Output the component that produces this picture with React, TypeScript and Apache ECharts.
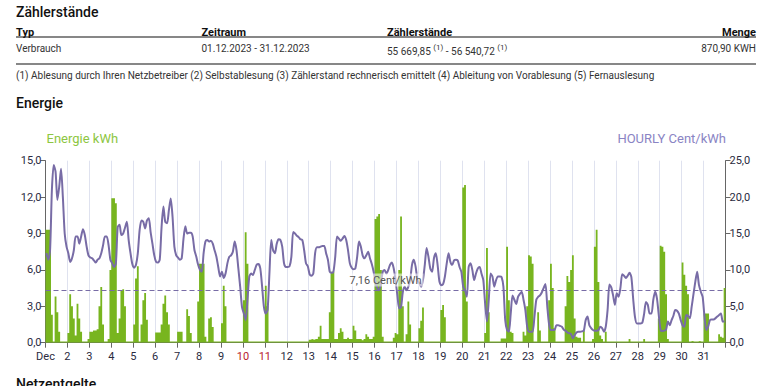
import React, { useEffect, useRef } from 'react';
import * as echarts from 'echarts';

// Tick labels of the day axis (one per day, first is the month)
const dayLabels = ['Dec', '2', '3', '4', '5', '6', '7', '8', '9', '10', '11', '12', '13', '14', '15', '16',
  '17', '18', '19', '20', '21', '22', '23', '24', '25', '26', '27', '28', '29', '30', '31'];
const redDays = ['10', '11'];

// Energy in kWh, two-hour bins (12 per day), December 1..31
const energyKwh: number[][] = [
  [9.3, 9.3, 9.3, 2.3, 0.1, 3.8, 2.5, 0.9, 0.1, 0.1, 0.1, 0.1],
  [0.8, 4.0, 3.0, 2.0, 0.6, 3.2, 2.0, 0.9, 0.1, 0.1, 0.1, 0.3],
  [0.9, 0.9, 1.0, 1.0, 1.1, 3.0, 4.6, 1.5, 0.1, 0.1, 0.3, 6.0],
  [11.9, 11.9, 11.5, 0.8, 2.0, 4.3, 4.4, 3.0, 0.1, 0.1, 0.1, 0.1],
  [1.5, 5.3, 6.3, 0.1, 1.5, 3.5, 4.1, 1.9, 0.1, 0.1, 0.1, 0.1],
  [0.85, 0.85, 0.85, 1.5, 3.2, 3.9, 2.5, 1.5, 0.1, 0.1, 0.1, 0.1],
  [0.9, 0.9, 0.9, 0.1, 0.1, 2.75, 2.2, 0.8, 0.1, 0.1, 0.1, 3.4],
  [6.5, 6.5, 6.5, 0.5, 0.1, 2.0, 2.1, 1.3, 0.1, 0.1, 0.1, 0.1],
  [1.6, 4.7, 3.0, 0.1, 0.1, 0.1, 0.1, 0.1, 0.1, 0.1, 0.1, 0.1],
  [3.5, 9.1, 6.5, 0.1, 0.1, 0.1, 0.1, 0.1, 0.1, 0.1, 0.1, 0.1],
  [4.7, 3.0, 0.1, 0.1, 0.1, 0.1, 0.1, 0.1, 0.1, 0.1, 0.1, 0.1],
  [0.1, 0.1, 0.1, 0.1, 0.1, 0.1, 0.1, 0.1, 0.1, 0.1, 0.1, 0.1],
  [0.25, 0.3, 0.25, 0.3, 0.3, 0.5, 1.4, 0.3, 0.3, 0.3, 0.3, 2.5],
  [5.85, 5.85, 0.3, 0.3, 0.8, 1.2, 0.9, 0.3, 0.3, 0.4, 0.3, 0.3],
  [1.4, 1.0, 0.3, 0.3, 0.3, 0.2, 0.3, 0.7, 0.5, 0.3, 0.3, 0.5],
  [10.2, 10.4, 10.6, 6.0, 0.5, 0.1, 0.1, 0.1, 0.1, 0.1, 0.4, 0.8],
  [0.7, 6.0, 10.4, 3.0, 0.1, 0.7, 3.4, 1.5, 0.1, 0.1, 0.1, 0.1],
  [1.2, 1.8, 2.9, 0.1, 0.1, 0.1, 0.1, 0.1, 0.1, 0.1, 0.1, 0.1],
  [2.7, 3.1, 2.1, 0.1, 0.1, 0.1, 0.1, 0.1, 0.1, 0.1, 0.1, 0.1],
  [12.8, 13.0, 3.4, 0.1, 0.1, 0.1, 0.1, 0.1, 0.1, 0.1, 0.1, 0.1],
  [0.8, 7.8, 2.5, 0.1, 0.1, 0.1, 0.1, 0.1, 0.1, 0.35, 0.35, 0.35],
  [7.9, 3.5, 0.9, 0.8, 0.1, 0.1, 0.1, 0.1, 0.1, 0.9, 0.6, 3.0],
  [7.2, 7.1, 6.5, 0.1, 0.1, 2.5, 1.0, 0.1, 0.1, 0.1, 0.1, 3.5],
  [6.5, 4.5, 1.2, 0.1, 0.1, 0.1, 0.1, 0.1, 3.0, 5.5, 5.0, 6.0],
  [7.2, 2.0, 0.5, 0.4, 0.4, 0.1, 1.0, 0.1, 0.1, 0.1, 0.1, 0.3],
  [7.9, 9.3, 5.0, 0.6, 0.3, 0.1, 0.9, 0.1, 0.1, 0.1, 0.1, 0.1],
  [0.1, 0.1, 0.1, 0.1, 0.1, 0.1, 0.1, 0.3, 0.1, 0.1, 0.1, 0.1],
  [0.1, 0.1, 0.1, 0.3, 0.1, 0.1, 0.1, 0.1, 0.1, 0.1, 0.1, 2.0],
  [8.0, 7.9, 7.5, 4.0, 0.3, 0.1, 0.1, 0.1, 0.1, 0.1, 0.1, 0.1],
  [6.6, 5.6, 4.7, 4.0, 0.1, 0.15, 0.1, 0.1, 0.1, 0.15, 0.1, 0.1],
  [2.4, 2.4, 2.4, 0.1, 0.1, 0.1, 0.1, 0.1, 0.7, 0.5, 0.4, 4.5],
];

// HOURLY price in Cent/kWh, two-hour bins (12 per day)
const priceCent: number[][] = [
  [12.3, 11.4, 12.7, 21.0, 24.4, 23.5, 19.6, 21.4, 23.9, 20.0, 15.0, 13.2],
  [12.3, 11.1, 11.6, 12.7, 14.6, 14.6, 13.6, 14.6, 15.6, 14.8, 13.2, 12.0],
  [11.7, 11.6, 11.3, 11.0, 11.4, 11.6, 12.3, 13.4, 14.6, 14.6, 13.4, 11.4],
  [10.9, 10.4, 10.9, 15.9, 16.2, 14.8, 15.0, 15.8, 16.6, 14.1, 12.3, 10.8],
  [10.3, 10.7, 12.3, 15.5, 16.8, 16.6, 15.7, 16.8, 17.1, 15.2, 13.6, 12.0],
  [11.1, 11.0, 11.4, 15.9, 18.7, 16.6, 16.4, 18.2, 19.8, 17.3, 13.2, 12.0],
  [11.7, 11.4, 11.6, 14.3, 16.0, 15.0, 15.1, 15.1, 14.6, 12.7, 11.8, 10.7],
  [10.0, 9.75, 12.3, 13.9, 14.1, 13.9, 14.0, 13.6, 12.7, 11.8, 10.4, 9.1],
  [9.75, 8.9, 9.5, 10.9, 11.8, 12.0, 12.5, 13.9, 12.7, 10.2, 7.7, 4.9],
  [4.0, 3.1, 5.9, 9.1, 9.5, 9.3, 10.0, 10.7, 10.8, 10.2, 7.7, 4.9],
  [4.0, 4.5, 9.5, 14.1, 12.7, 12.3, 13.6, 14.2, 14.1, 13.2, 10.9, 10.4],
  [10.4, 10.5, 11.8, 15.2, 15.0, 14.7, 14.5, 14.2, 14.1, 12.7, 10.9, 10.5],
  [9.4, 9.2, 9.5, 12.3, 13.1, 13.1, 13.2, 13.3, 13.3, 12.3, 11.4, 9.75],
  [9.6, 9.75, 11.8, 14.6, 14.3, 14.0, 14.3, 14.65, 14.1, 12.7, 10.9, 10.3],
  [10.1, 10.2, 11.8, 13.9, 13.2, 12.0, 11.6, 12.0, 12.5, 11.6, 10.8, 9.75],
  [8.4, 7.5, 7.2, 8.15, 9.75, 10.0, 9.5, 10.0, 10.7, 11.0, 10.2, 8.6],
  [6.5, 4.7, 4.9, 7.0, 7.7, 7.2, 7.7, 8.6, 10.7, 11.4, 10.4, 8.6],
  [8.15, 7.7, 8.6, 10.7, 13.0, 11.8, 10.2, 9.75, 11.6, 12.3, 10.7, 8.4],
  [7.9, 8.05, 9.1, 10.9, 12.3, 11.1, 10.7, 11.3, 11.4, 11.3, 10.4, 9.75],
  [7.7, 7.2, 6.3, 10.4, 10.9, 10.0, 8.6, 9.5, 10.2, 10.4, 9.5, 8.6],
  [5.4, 2.9, 5.9, 9.5, 9.1, 7.7, 8.6, 9.1, 9.1, 9.0, 7.7, 3.1],
  [1.75, 1.5, 4.0, 6.5, 5.9, 5.3, 6.3, 6.7, 7.0, 5.9, 4.5, 2.2],
  [1.5, 1.5, 1.5, 3.6, 5.9, 6.3, 6.5, 6.9, 7.5, 8.05, 5.0, 2.5],
  [1.75, 1.75, 1.75, 2.4, 2.4, 2.3, 2.2, 1.8, 1.65, 1.4, 1.3, 1.2],
  [0.6, 1.05, 1.4, 1.5, 1.5, 1.55, 1.65, 3.1, 3.6, 2.4, 2.0, 1.75],
  [1.65, 1.65, 1.75, 2.2, 2.0, 1.5, 2.2, 4.5, 8.0, 7.6, 6.5, 5.2],
  [6.8, 6.3, 7.5, 9.4, 9.2, 8.9, 9.2, 9.6, 9.0, 6.0, 3.5, 2.65],
  [2.65, 2.65, 2.75, 4.0, 5.6, 5.2, 4.0, 4.0, 5.9, 7.0, 6.1, 3.8],
  [1.75, 1.6, 1.65, 1.8, 2.9, 2.4, 3.1, 3.7, 4.5, 4.4, 4.0, 3.1],
  [2.4, 2.2, 3.8, 3.7, 3.35, 4.95, 6.7, 8.4, 9.75, 7.9, 7.0, 6.3],
  [3.6, 1.75, 2.2, 3.1, 3.2, 3.2, 3.35, 3.6, 3.8, 4.0, 2.9, 2.9],
];

const averagePrice = 7.16;
const averageLabel = '7,16 Cent/kWh';

const tableHeaders = ['Typ', 'Zeitraum', 'Zählerstände', 'Menge'];
const tableRow = ['Verbrauch', '01.12.2023 - 31.12.2023', '55 669,85', '56 540,72', '870,90 KWH'];
const footnote = '(1) Ablesung durch Ihren Netzbetreiber (2) Selbstablesung (3) Zählerstand rechnerisch emittelt (4) Ableitung von Vorablesung (5) Fernauslesung';

const FONT = 'Roboto, "Noto Sans", sans-serif';
const GREEN = '#78b51f';
const PURPLE = '#786ca6';
const TEXT = '#2a2a40';
const HOURS_PER_BIN = 2;
const HOURS_TOTAL = 744;

export default function App() {
  const ref = useRef<HTMLDivElement>(null);

  useEffect(() => {
    if (!ref.current) return;
    const chart = echarts.init(ref.current, null, { renderer: 'svg' });

    // each energy bin is drawn as a solid column from its start hour to the next bin's start
    const energyData: number[][] = energyKwh.flatMap((day, d) => day.map((v, k) => [d * 24 + k * HOURS_PER_BIN, v]));
    energyData.push([HOURS_TOTAL, energyData[energyData.length - 1][1]]);
    const priceData = priceCent.flatMap((day, d) => day.map((v, k) => [d * 24 + k * HOURS_PER_BIN + 1, v]));
    const fmt = (v: number) => v.toFixed(1).replace('.', ',');

    const txt = (text: string, x: number, y: number, size: number, opts: any = {}) => ({
      type: 'text',
      x,
      y,
      silent: true,
      style: {
        text,
        fontFamily: FONT,
        fontSize: size,
        fontWeight: opts.weight || 'normal',
        fill: opts.fill || '#222',
        align: opts.align || 'left',
        verticalAlign: 'middle',
        rich: opts.rich,
      },
    });

    const option: any = {
      animation: false,
      backgroundColor: '#fff',
      textStyle: { fontFamily: FONT },
      grid: { left: 45.5, right: 54.5, top: 160.7, bottom: 43.3, containLabel: false },
      xAxis: {
        type: 'value',
        min: 0,
        max: HOURS_TOTAL,
        interval: 24,
        axisLine: { show: true, lineStyle: { color: '#666', width: 1 } },
        axisTick: { show: true, length: 5, lineStyle: { color: '#666' } },
        splitLine: { show: true, lineStyle: { color: '#dfe2ef', width: 1 } },
        axisLabel: {
          fontSize: 11,
          margin: 8,
          fontFamily: FONT,
          formatter: (v: number) => (v >= HOURS_TOTAL ? '' : dayLabels[Math.round(v / 24)]),
          color: (v: number) => (redDays.includes(dayLabels[Math.round(v / 24)] || '') ? '#b8222e' : TEXT),
        },
      },
      yAxis: [
        {
          type: 'value',
          min: 0,
          max: 15,
          interval: 3,
          axisLine: { show: true, lineStyle: { color: '#666' } },
          axisTick: { show: true, length: 5, lineStyle: { color: '#666' } },
          splitLine: { show: false },
          axisLabel: { fontSize: 11, color: TEXT, margin: 4, formatter: fmt, fontFamily: FONT },
        },
        {
          type: 'value',
          min: 0,
          max: 25,
          interval: 5,
          position: 'right',
          axisLine: { show: true, lineStyle: { color: '#666' } },
          axisTick: { show: true, length: 5, lineStyle: { color: '#666' } },
          splitLine: { show: false },
          axisLabel: { fontSize: 11, color: TEXT, margin: 4, formatter: fmt, fontFamily: FONT },
        },
      ],
      series: [
        {
          name: 'Energie kWh',
          type: 'line',
          step: 'end',
          yAxisIndex: 0,
          data: energyData,
          showSymbol: false,
          lineStyle: { width: 0, color: GREEN },
          areaStyle: { color: GREEN, opacity: 1 },
          z: 2,
        },
        {
          name: 'HOURLY Cent/kWh',
          type: 'line',
          yAxisIndex: 1,
          data: priceData,
          showSymbol: false,
          smooth: 0.25,
          lineStyle: { color: PURPLE, width: 2 },
          z: 3,
          markLine: {
            silent: true,
            symbol: ['none', 'none'],
            data: [{ yAxis: averagePrice }],
            lineStyle: { color: PURPLE, type: [5, 3], width: 1.2 },
            label: {
              show: true,
              position: 'middle',
              formatter: averageLabel,
              fontSize: 11,
              fontFamily: FONT,
              color: '#555',
              backgroundColor: 'rgba(255,255,255,0.55)',
              padding: [1, 2],
              distance: 4,
            },
          },
        },
      ],
      graphic: [
        txt('Zählerstände', 16, 12.4, 14, { weight: 500, fill: '#111' }),
        txt(tableHeaders[0], 16, 32.3, 11, { weight: 'bold', fill: '#111' }),
        txt(tableHeaders[1], 201.5, 32.3, 11, { weight: 'bold', fill: '#111' }),
        txt(tableHeaders[2], 387, 32.3, 11, { weight: 'bold', fill: '#111' }),
        txt(tableHeaders[3], 756, 32.3, 11, { weight: 'bold', fill: '#111', align: 'right' }),
        { type: 'line', silent: true, shape: { x1: 16, y1: 37, x2: 756, y2: 37 }, style: { stroke: '#111', lineWidth: 1.2 } },
        txt(tableRow[0], 16, 48, 10, { fill: '#333' }),
        txt(tableRow[1], 201.5, 48, 10, { fill: '#333' }),
        txt(`${tableRow[2]} {s|(1)} - ${tableRow[3]} {s|(1)}`, 387, 51, 10, {
          fill: '#333',
          rich: { s: { fontSize: 8, fontFamily: FONT, fill: '#333', padding: [0, 0, 7, 0] } },
        }),
        txt(tableRow[4], 756, 48.6, 10, { fill: '#333', align: 'right' }),
        { type: 'line', silent: true, shape: { x1: 16, y1: 64, x2: 756, y2: 64 }, style: { stroke: '#111', lineWidth: 1.2 } },
        txt(footnote, 16, 75.5, 10, { fill: '#333' }),
        txt('Energie', 16, 103.3, 14, { weight: 500, fill: '#111' }),
        txt('Energie kWh', 46.5, 138, 13, { fill: '#8dc641' }),
        txt('HOURLY Cent/kWh', 726, 138, 13, { fill: '#8a84c4', align: 'right' }),
        txt('Netzentgelte', 16, 383.5, 14, { weight: 500, fill: '#111' }),
      ],
    };

    chart.setOption(option);
    return () => chart.dispose();
  }, []);

  return (
    <div
      ref={ref}
      style={{ position: 'fixed', left: 0, top: 0, width: 780, height: 386, background: '#fff' }}
    />
  );
}
